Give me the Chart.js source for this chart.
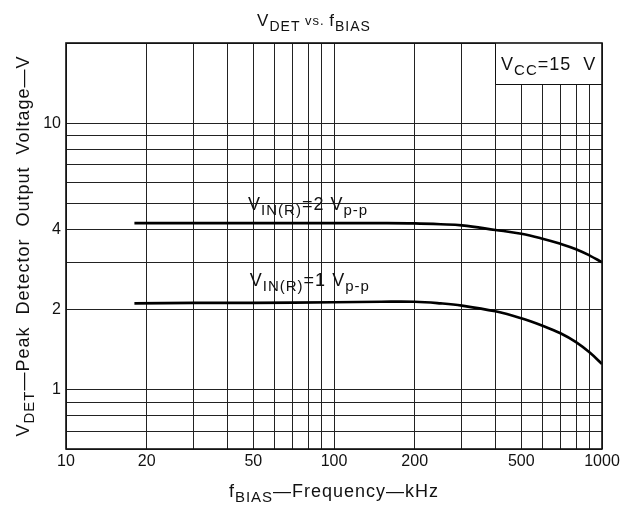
<!DOCTYPE html>
<html>
<head>
<meta charset="utf-8">
<script src="https://cdn.jsdelivr.net/npm/chart.js@4.4.1/dist/chart.umd.min.js"></script>
<style>
  html, body { margin: 0; padding: 0; background: #fff; }
  #wrap { width: 623px; height: 508px; position: relative; }
</style>
</head>
<body>
<div id="wrap"><canvas id="c" width="623" height="508"></canvas></div>
<script>
// ---- data ----
const freq   = [18, 30, 50, 100, 150, 200, 250, 300, 400, 500, 600, 700, 800, 900, 1000];      // kHz
const vdet2  = [4.22, 4.22, 4.22, 4.22, 4.22, 4.21, 4.18, 4.14, 3.98, 3.85, 3.69, 3.53, 3.37, 3.19, 3.01]; // VIN(R)=2 Vp-p
const vdet1  = [2.11, 2.12, 2.12, 2.13, 2.14, 2.14, 2.11, 2.07, 1.97, 1.855, 1.74, 1.63, 1.51, 1.38, 1.25]; // VIN(R)=1 Vp-p

const xGrid   = [10, 20, 30, 40, 50, 60, 70, 80, 90, 100, 200, 300, 400, 500, 600, 700, 800, 900, 1000];
const xLabels = [10, 20, 50, 100, 200, 500, 1000];
const yGrid   = [0.6, 0.7, 0.8, 0.9, 1, 2, 3, 4, 5, 6, 7, 8, 9, 10, 20];
const yLabels = [1, 2, 4, 10];

const FONT = '"Liberation Sans", Arial, sans-serif';
const INK = '#111';

function rich(ctx, parts, x, y, align) {
  // parts: [text, size, dy]
  let w = 0;
  const ms = parts.map(p => { ctx.font = p[1] + 'px ' + FONT; const m = ctx.measureText(p[0]).width; w += m; return m; });
  let cx = align === 'center' ? x - w / 2 : (align === 'right' ? x - w : x);
  parts.forEach((p, i) => {
    ctx.font = p[1] + 'px ' + FONT;
    ctx.fillText(p[0], cx, y + p[2]);
    cx += ms[i];
  });
}

const decor = {
  id: 'decor',
  beforeDatasetsDraw(chart) {
    const { ctx, scales: { x, y } } = chart;
    // Vcc box in the upper right corner
    const bx0 = x.getPixelForValue(400), bx1 = x.getPixelForValue(1000);
    const by0 = y.getPixelForValue(20), by1 = y.getPixelForValue(14);
    ctx.save();
    ctx.fillStyle = '#fff';
    ctx.fillRect(bx0, by0, bx1 - bx0, by1 - by0);
    ctx.strokeStyle = INK; ctx.lineWidth = 1;
    ctx.beginPath();
    ctx.moveTo(Math.round(bx0) + 0.5, by0); ctx.lineTo(Math.round(bx0) + 0.5, Math.round(by1) + 0.5);
    ctx.lineTo(bx1, Math.round(by1) + 0.5);
    ctx.stroke();
    ctx.restore();
  },
  afterDraw(chart) {
    const { ctx, chartArea: a, scales: { x, y } } = chart;
    ctx.save();
    // frame
    ctx.strokeStyle = INK; ctx.lineWidth = 1.6;
    ctx.strokeRect(a.left, a.top, a.right - a.left, a.bottom - a.top);
    ctx.fillStyle = INK;
    ctx.textBaseline = 'alphabetic';
    ctx.letterSpacing = '1px';
    // title
    rich(ctx, [['V', 17, 0], ['DET', 14, 5], [' vs. ', 13, -1], ['f', 17, 0], ['BIAS', 14, 5]], 314, 26, 'center');
    // Vcc label
    const bx0 = x.getPixelForValue(400), bx1 = x.getPixelForValue(1000);
    rich(ctx, [['V', 18, 0], ['CC', 15, 5], ['=15  V', 18, 0]], (bx0 + bx1) / 2, 70, 'center');
    // curve labels
    rich(ctx, [['V', 18, 0], ['IN(R)', 15, 5], ['=2 V', 18, 0], ['p-p', 15, 5]], x.getPixelForValue(47.8), y.getPixelForValue(4.72), 'left');
    rich(ctx, [['V', 18, 0], ['IN(R)', 15, 5], ['=1 V', 18, 0], ['p-p', 15, 5]], x.getPixelForValue(48.5), y.getPixelForValue(2.46), 'left');
    // x-axis title
    rich(ctx, [['f', 18, 0], ['BIAS', 15, 5], ['—Frequency—kHz', 18, 0]], (a.left + a.right) / 2, 497, 'center');
    // y-axis title
    ctx.translate(29, (a.top + a.bottom) / 2);
    ctx.rotate(-Math.PI / 2);
    rich(ctx, [['V', 18, 0], ['DET', 15, 5], ['—Peak  Detector  Output  Voltage—V', 18, 0]], 0, 0, 'center');
    ctx.restore();
  }
};

const lineStyle = { borderColor: '#000', borderWidth: 2.6, pointRadius: 0, fill: false, tension: 0.4 };

new Chart(document.getElementById('c'), {
  type: 'line',
  data: {
    datasets: [
      Object.assign({ label: 'VIN(R)=2 Vp-p', data: freq.map((f, i) => ({ x: f, y: vdet2[i] })) }, lineStyle),
      Object.assign({ label: 'VIN(R)=1 Vp-p', data: freq.map((f, i) => ({ x: f, y: vdet1[i] })) }, lineStyle)
    ]
  },
  options: {
    responsive: false,
    animation: false,
    devicePixelRatio: 1,
    layout: { padding: { top: 43, right: 21, left: 0, bottom: 0 } },
    plugins: { legend: { display: false }, title: { display: false }, tooltip: { enabled: false } },
    scales: {
      x: {
        type: 'logarithmic', min: 10, max: 1000,
        afterBuildTicks: s => { s.ticks = xGrid.map(v => ({ value: v })); },
        afterFit: s => { s.height = 59; },
        grid: { color: '#222', lineWidth: 1, drawTicks: false },
        border: { display: false },
        ticks: {
          autoSkip: false, maxRotation: 0, padding: 3, color: INK,
          font: { family: FONT, size: 16 },
          callback: v => xLabels.includes(v) ? String(v) : ''
        }
      },
      y: {
        type: 'logarithmic', min: 0.6, max: 20,
        afterBuildTicks: s => { s.ticks = yGrid.map(v => ({ value: v })); },
        afterFit: s => { s.width = 66; },
        grid: { color: '#222', lineWidth: 1, drawTicks: false },
        border: { display: false },
        ticks: {
          autoSkip: false, padding: 5, color: INK,
          font: { family: FONT, size: 16 },
          callback: v => yLabels.includes(v) ? String(v) : ''
        }
      }
    }
  },
  plugins: [decor]
});
</script>
</body>
</html>
